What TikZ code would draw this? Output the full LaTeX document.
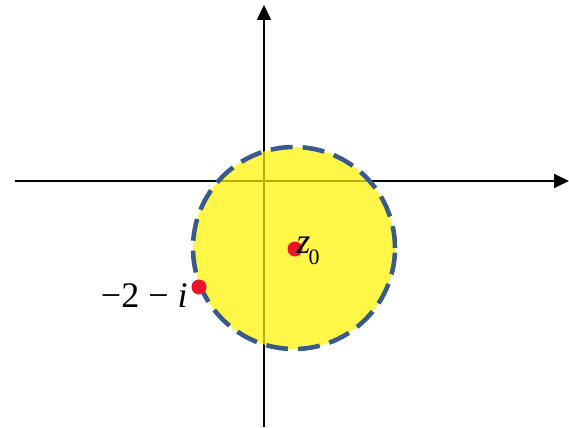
\documentclass[tikz,border=0pt]{standalone}
\usepackage{fontspec}
\setmainfont{Liberation Serif}
\usetikzlibrary{arrows.meta,positioning,calc}
\definecolor{rimblue}{RGB}{58,90,140}
\definecolor{dotred}{RGB}{235,20,40}
\begin{document}
\begin{tikzpicture}[
    axis/.style={line width=1.1pt, -{Triangle[length=0.3cm, width=0.28cm]}},
    disc/.style={fill=yellow, fill opacity=0.72},
    rim/.style={draw=rimblue, line width=2.6pt, dash pattern=on 0.44cm off 0.2cm},
    pt/.style={circle, fill=dotred, inner sep=0pt, minimum size=0.3cm},
    lbl/.style={font=\fontsize{20.5}{24}\selectfont, inner sep=0pt},
]
\useasboundingbox (0,0) rectangle (11.38,8.54);
% axes
\coordinate (xl) at (0.30,4.92);
\coordinate (xr) at (11.38,4.92);
\coordinate (yb) at (5.28,0);
\coordinate (yt) at (5.28,8.44);
\draw[axis] (xl) -- (xr);
\draw[axis] (yb) -- (yt);
% disc around z0
\coordinate (c) at (5.88,3.58);
\fill[disc] (c) circle (2.02);
\draw[rim] (c) circle (2.02);
% points
\node[pt] (z0) at (5.90,3.56) {};
\node[pt] (p2) at (3.98,2.80) {};
\node[lbl, anchor=base west] (z0lbl) at ($(z0)+(0.02,-0.08)$)
    {\textit{z}\kern-0.05em\raisebox{-0.33em}{\fontsize{12.5}{14}\selectfont 0}};
\node[lbl, anchor=base east] (p2lbl) at ($(p2)+(-0.22,-0.40)$) {−2 − \textit{i}};
\end{tikzpicture}
\end{document}
